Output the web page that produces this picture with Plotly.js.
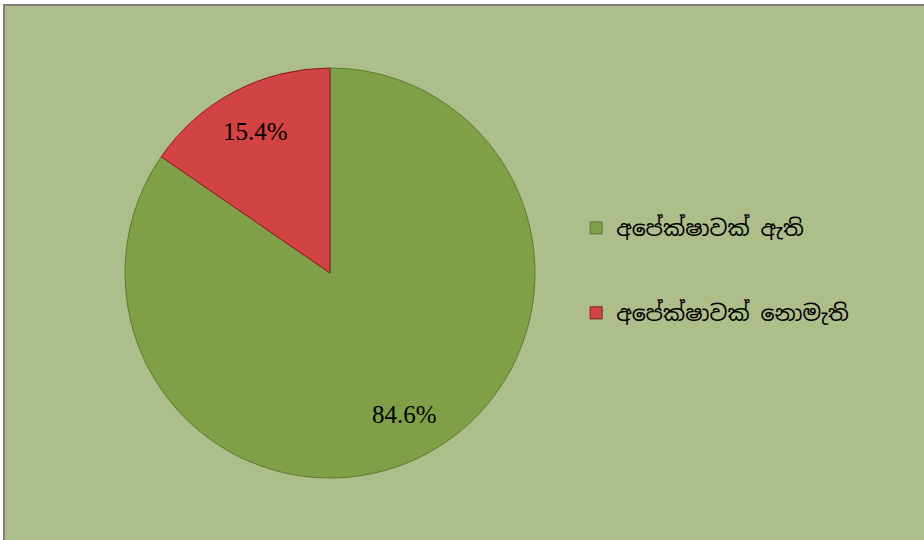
<!DOCTYPE html>
<html>
<head>
<meta charset="utf-8">
<script src="https://cdn.plot.ly/plotly-3.0.1.min.js"></script>
<style>
  body { margin: 0; background: #ffffff; }
  #frame {
    position: absolute; left: 3px; top: 4px;
    border-top: 2px solid #808080; border-left: 2px solid #808080;
  }
  #chart { width: 919px; height: 534px; }
</style>
</head>
<body>
<div id="frame"><div id="chart"></div></div>
<script>
// answer categories and shares (percent)
const labels = ["අපේක්ෂාවක් ඇති", "අපේක්ෂාවක් නොමැති"];
const shares = [84.6, 15.4];
const sliceColors = ["#7fa046", "#d24343"];
const edgeColors = ["#5d7a2c", "#7a1f1f"];

const W = 919, H = 534;
const pieDomain = { x: [0.1306, 0.5767], y: [0.1161, 0.8839] };
const sinhalaFont = "'Iskoola Pota', 'Noto Sans Sinhala', 'Noto Serif Sinhala', 'Liberation Serif', serif";

// pad legend labels with blank lines so the two entries sit far apart
const legendLabels = labels.map(l =>
  "&nbsp;<br><span style=\"font-size:22px\">" + l + "</span><br>&nbsp;");

// percent labels placed along each slice's middle angle (clockwise from 12 o'clock)
const total = shares.reduce((a, b) => a + b, 0);
const cx = (pieDomain.x[0] + pieDomain.x[1]) / 2;
const cy = (pieDomain.y[0] + pieDomain.y[1]) / 2;
const radiusPx = Math.min((pieDomain.x[1] - pieDomain.x[0]) * W, (pieDomain.y[1] - pieDomain.y[0]) * H) / 2;
let start = 0;
const pctNotes = shares.map(v => {
  const mid = (start + v / 2) / total * 2 * Math.PI;
  start += v;
  const rr = radiusPx * 0.78;
  return {
    xref: "paper", yref: "paper",
    xanchor: "center", yanchor: "middle",
    x: cx + rr * Math.sin(mid) / W,
    y: cy + rr * Math.cos(mid) / H,
    text: (v / total * 100).toFixed(1) + "%",
    showarrow: false,
    font: { family: "'Times New Roman', 'Liberation Serif', serif", size: 25, color: "#000000" },
  };
});

Plotly.newPlot("chart", [
  {
    type: "pie",
    labels: legendLabels,
    values: shares,
    sort: false,
    direction: "clockwise",
    rotation: 0,
    marker: { colors: sliceColors, line: { color: edgeColors, width: 1 } },
    textinfo: "none",
    hoverinfo: "none",
    domain: pieDomain,
  },
], {
  width: W,
  height: H,
  margin: { l: 0, r: 0, t: 0, b: 0 },
  paper_bgcolor: "#adbe8b",
  plot_bgcolor: "#adbe8b",
  showlegend: true,
  annotations: pctNotes,
  legend: {
    x: 0.6215, xanchor: "left",
    y: 0.5047, yanchor: "middle",
    bgcolor: "rgba(0,0,0,0)",
    font: { family: sinhalaFont, size: 21, color: "#000000" },
  },
}, { displayModeBar: false, staticPlot: true });
</script>
</body>
</html>
